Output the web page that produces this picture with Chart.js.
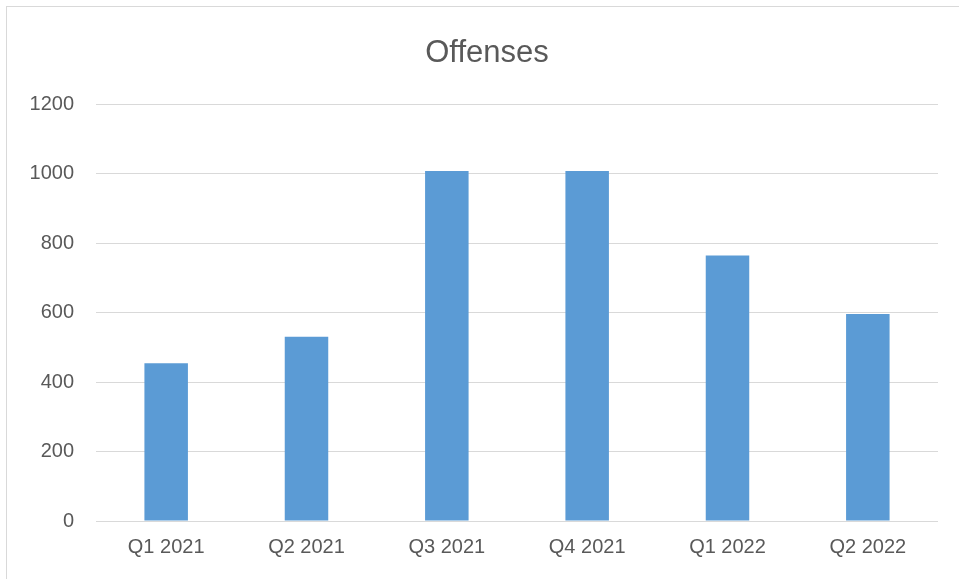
<!DOCTYPE html>
<html>
<head>
<meta charset="utf-8">
<script src="https://cdn.jsdelivr.net/npm/chart.js@4/dist/chart.umd.min.js"></script>
<style>
  html, body { margin: 0; padding: 0; background: #fff; }
  #wrap { position: relative; width: 959px; height: 579px; overflow: hidden; }
  #frame { position: absolute; left: 6px; top: 6px; width: 970px; height: 600px; border: 1px solid #d9d9d9; }
  #chart { position: absolute; left: 0; top: 0; }
  #title {
    position: absolute; left: 0; top: 33px; width: 974px;
    text-align: center; color: #595959;
    font: 31px/37px 'Liberation Sans', Arial, sans-serif;
  }
</style>
</head>
<body>
<div id="wrap">
  <div id="frame"></div>
  <canvas id="chart" width="959" height="579"></canvas>
  <div id="title">Offenses</div>
</div>
<script>
const quarters = ["Q1 2021", "Q2 2021", "Q3 2021", "Q4 2021", "Q1 2022", "Q2 2022"];
const offenses = [454, 530, 1007, 1007, 764, 596];
const yTicks = [0, 200, 400, 600, 800, 1000, 1200];

const textColor = "#595959";
const gridColor = "#d9d9d9";
const fontFamily = "'Liberation Sans', Arial, sans-serif";

new Chart(document.getElementById("chart"), {
  type: "bar",
  data: {
    labels: quarters,
    datasets: [
      {
        label: "Offenses",
        data: offenses,
        backgroundColor: "#5B9BD5",
        borderWidth: 0,
        categoryPercentage: 1,
        barPercentage: 0.31,
      },
    ],
  },
  options: {
    responsive: false,
    animation: false,
    devicePixelRatio: 1,
    layout: { padding: { left: 0, right: 21, top: 104, bottom: 13 } },
    plugins: {
      legend: { display: false },
      tooltip: { enabled: false },
      title: { display: false },
    },
    scales: {
      x: {
        grid: { display: false, drawTicks: false },
        border: { display: false },
        ticks: {
          color: textColor,
          font: { family: fontFamily, size: 20 },
          padding: 14,
          maxRotation: 0,
        },
        afterFit: (s) => { s.height = 45; },
      },
      y: {
        min: 0,
        max: 1200,
        afterBuildTicks: (s) => { s.ticks = yTicks.map((v) => ({ value: v })); },
        grid: { color: gridColor, lineWidth: 1, drawTicks: false },
        border: { display: false },
        ticks: {
          color: textColor,
          font: { family: fontFamily, size: 20 },
          padding: 22,
          callback: (v) => String(v),
        },
        afterFit: (s) => { s.width = 96; },
      },
    },
  },
});
</script>
</body>
</html>
